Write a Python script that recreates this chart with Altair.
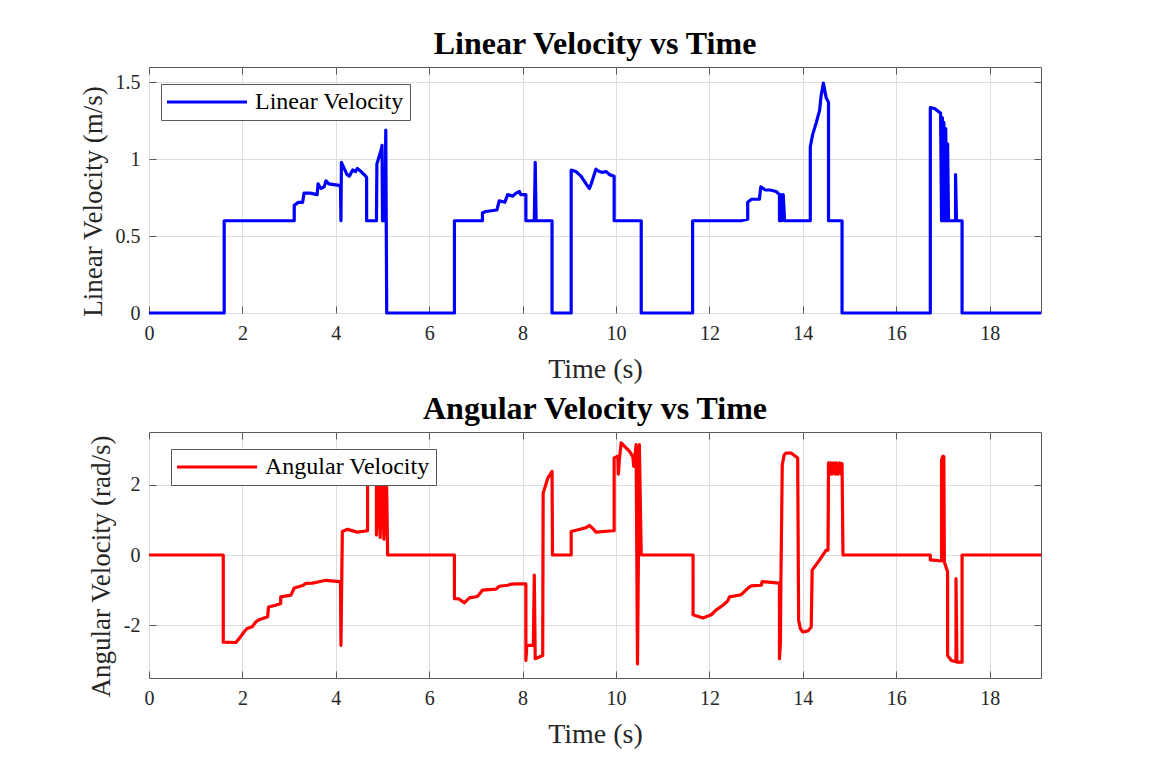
import pandas as pd
import altair as alt

# linear velocity trace (time in s, velocity in m/s)
lin_pts = [
    (0, 0), (1.61, 0), (1.61, 0.6), (3.11, 0.6), (3.11, 0.70), (3.2, 0.72), (3.29, 0.72),
    (3.32, 0.78), (3.45, 0.78), (3.6, 0.77), (3.62, 0.84), (3.68, 0.81), (3.75, 0.82),
    (3.79, 0.86), (3.85, 0.84), (4.07, 0.83), (4.1, 0.82), (4.11, 0.6), (4.12, 0.98),
    (4.24, 0.9), (4.29, 0.89), (4.36, 0.93), (4.42, 0.92), (4.46, 0.94), (4.54, 0.92),
    (4.64, 0.89), (4.66, 0.88), (4.66, 0.6), (4.87, 0.6), (4.88, 0.97), (4.93, 1.02),
    (4.97, 1.06), (4.99, 1.09), (5.0, 0.6), (5.05, 0.6), (5.07, 1.19), (5.09, 0),
    (6.54, 0), (6.54, 0.6), (7.14, 0.6), (7.14, 0.65), (7.21, 0.66), (7.45, 0.67),
    (7.5, 0.73), (7.62, 0.72), (7.68, 0.77), (7.79, 0.76), (7.86, 0.78), (7.93, 0.79),
    (7.96, 0.77), (8.07, 0.77), (8.07, 0.6), (8.25, 0.6), (8.27, 0.98), (8.29, 0.6),
    (8.63, 0.6), (8.63, 0), (9.04, 0), (9.04, 0.93), (9.14, 0.92), (9.25, 0.89),
    (9.36, 0.84), (9.43, 0.81), (9.47, 0.84), (9.57, 0.935), (9.64, 0.92), (9.71, 0.915),
    (9.79, 0.92), (9.86, 0.9), (9.96, 0.89), (9.96, 0.6), (10.54, 0.6), (10.54, 0),
    (11.64, 0), (11.64, 0.6), (12.68, 0.6), (12.82, 0.61), (12.82, 0.72), (12.9, 0.74),
    (13.07, 0.74), (13.1, 0.82), (13.2, 0.80), (13.3, 0.80), (13.43, 0.79), (13.5, 0.77),
    (13.5, 0.6), (13.53, 0.77), (13.55, 0.6), (13.58, 0.77), (13.61, 0.6), (14.16, 0.6),
    (14.16, 1.08), (14.21, 1.16), (14.29, 1.24), (14.36, 1.32), (14.39, 1.41),
    (14.44, 1.495), (14.5, 1.40), (14.55, 1.37), (14.55, 0.6), (14.84, 0.6), (14.84, 0),
    (16.73, 0), (16.73, 1.336), (16.82, 1.33), (16.95, 1.30), (16.97, 0.6), (16.99, 1.27),
    (17.0, 0.6), (17.02, 1.24), (17.04, 0.6), (17.06, 1.2), (17.08, 0.6), (17.1, 1.1),
    (17.12, 0.6), (17.27, 0.6), (17.27, 0.9), (17.29, 0.6), (17.41, 0.6), (17.41, 0),
    (19.1, 0),
]

# angular velocity trace (time in s, velocity in rad/s)
ang_pts = [
    (0, 0), (1.59, 0), (1.59, -2.48), (1.86, -2.49), (1.93, -2.38), (2.03, -2.2),
    (2.1, -2.09), (2.21, -2.04), (2.29, -1.9), (2.36, -1.84), (2.54, -1.76), (2.56, -1.48),
    (2.71, -1.43), (2.82, -1.38), (2.82, -1.19), (3.04, -1.14), (3.11, -0.94),
    (3.29, -0.87), (3.36, -0.81), (3.5, -0.80), (3.64, -0.76), (3.79, -0.72),
    (4.07, -0.76), (4.1, -0.76), (4.11, -2.57), (4.14, 0.67), (4.25, 0.73), (4.46, 0.65),
    (4.68, 0.69), (4.68, 2.7), (4.87, 2.7), (4.87, 0.57), (4.91, 2.7), (4.95, 0.5),
    (4.99, 2.7), (5.03, 0.45), (5.08, 2.7), (5.11, 0),
    (6.54, 0), (6.54, -1.24), (6.64, -1.25), (6.75, -1.36), (6.86, -1.22), (7.03, -1.18),
    (7.08, -1.1), (7.14, -1.0), (7.43, -0.97), (7.5, -0.89), (7.68, -0.86), (7.75, -0.83),
    (7.93, -0.82), (8.07, -0.82), (8.07, -3.0), (8.09, -2.57), (8.23, -2.57),
    (8.25, -0.57), (8.27, -2.95), (8.43, -2.86), (8.44, 1.76), (8.54, 2.19), (8.63, 2.38),
    (8.64, 0), (9.04, 0), (9.04, 0.67), (9.25, 0.74), (9.36, 0.78), (9.43, 0.84),
    (9.5, 0.76), (9.57, 0.65), (9.93, 0.69), (9.96, 0.69), (9.96, 2.76), (10.04, 2.81),
    (10.05, 2.3), (10.07, 2.7), (10.11, 3.19), (10.29, 2.95), (10.36, 2.8), (10.38, 2.52),
    (10.43, 3.14), (10.46, -3.1), (10.5, 3.14), (10.54, 0),
    (11.65, 0), (11.65, -1.70), (11.86, -1.79), (12.04, -1.70), (12.14, -1.57),
    (12.29, -1.43), (12.39, -1.31), (12.43, -1.19), (12.68, -1.13), (12.82, -0.95),
    (12.89, -0.88), (13.11, -0.86), (13.13, -0.76), (13.32, -0.78), (13.5, -0.8),
    (13.5, -2.95), (13.52, -2.5), (13.53, -0.8), (13.56, 2.57), (13.6, 2.85), (13.64, 2.9),
    (13.75, 2.9), (13.89, 2.76), (13.91, -1.86), (13.95, -2.1), (14.0, -2.19),
    (14.11, -2.16), (14.18, -2.05), (14.2, -0.43), (14.36, -0.14), (14.5, 0.14),
    (14.54, 0.14), (14.55, 2.62), (14.58, 2.3), (14.6, 2.62), (14.63, 2.3), (14.66, 2.62),
    (14.7, 2.3), (14.72, 2.62), (14.75, 2.3), (14.79, 2.62), (14.82, 2.3), (14.84, 2.6),
    (14.86, 0), (16.73, 0), (16.73, -0.14), (16.97, -0.17), (16.97, 2.7), (17.0, 2.81),
    (17.01, -0.1), (17.02, 2.8), (17.03, -0.2), (17.1, -0.48), (17.1, -2.86),
    (17.18, -3.0), (17.28, -3.04), (17.28, -0.67), (17.3, -3.05), (17.41, -3.05),
    (17.41, 0), (19.1, 0),
]

time_ticks = [0, 2, 4, 6, 8, 10, 12, 14, 16, 18]
lin_ticks = [0, 0.5, 1, 1.5]
ang_ticks = [-2, 0, 2]
T_END = 19.1

FONT = "Liberation Serif"
EDGE = "#595959"
INK = "#262626"
PLOT_W, PLOT_H = 892, 246


def velocity_panel(points, name, color, title, y_title, y_domain, y_ticks, legend_x):
    df = pd.DataFrame(points, columns=["t", "v"])
    df["idx"] = range(len(df))
    df["series"] = name

    x_scale = alt.Scale(domain=[0, T_END], nice=False, zero=False)
    y_scale = alt.Scale(domain=y_domain, nice=False, zero=False)
    as_text = "'' + datum.value"
    text_style = dict(labelFont=FONT, labelFontSize=20, labelColor=INK,
                      titleFont=FONT, titleFontWeight="normal", titleColor=INK)

    trace = alt.Chart(df).mark_line(strokeWidth=3.2, strokeJoin="round").encode(
        x=alt.X("t:Q", scale=x_scale, axis=alt.Axis(
            orient="bottom", values=time_ticks, labelExpr=as_text, title="Time (s)",
            offset=-7, tickSize=7, labelPadding=10, titlePadding=12, labelFlush=False,
            titleFontSize=28, grid=True, **text_style)),
        y=alt.Y("v:Q", scale=y_scale, axis=alt.Axis(
            orient="left", values=y_ticks, labelExpr=as_text, title=y_title,
            offset=-7, tickSize=7, labelPadding=9, titlePadding=8, titleFontSize=27,
            titleY=PLOT_H / 2 + 11, grid=True, **text_style)),
        color=alt.Color("series:N", scale=alt.Scale(domain=[name], range=[color]),
                        legend=alt.Legend(
                            title=None, orient="none", legendX=legend_x, legendY=17,
                            # flat custom path: 80px long line sample, one text row tall
                            symbolType="M-4,0L4,0", symbolSize=400, symbolStrokeWidth=3.2,
                            symbolOffset=28, labelOffset=36, labelLimit=400,
                            labelFont=FONT, labelFontSize=24, labelColor="black",
                            padding=6, strokeColor=EDGE, fillColor="white",
                            cornerRadius=0)),
        order=alt.Order("idx:Q"),
    )

    # invisible copy carrying the inward ticks on the top and right edges
    edge_ticks = alt.Chart(df).mark_line(opacity=0).encode(
        x=alt.X("t:Q", scale=x_scale, axis=alt.Axis(
            orient="top", values=time_ticks, labels=False, title=None,
            offset=-7, tickSize=7, grid=False)),
        y=alt.Y("v:Q", scale=y_scale, axis=alt.Axis(
            orient="right", values=y_ticks, labels=False, title=None,
            offset=-7, tickSize=7, grid=False)),
        order=alt.Order("idx:Q"),
    )

    return alt.layer(trace, edge_ticks).resolve_axis(
        x="independent", y="independent"
    ).properties(
        width=PLOT_W, height=PLOT_H,
        title=alt.Title(title, font=FONT, fontSize=32, fontWeight="bold",
                        color="black", offset=6, anchor="middle"),
    )


top = velocity_panel(lin_pts, "Linear Velocity", "#0000ff", "Linear Velocity vs Time",
                     "Linear Velocity (m/s)", [0, 1.6], lin_ticks, 12)
bottom = velocity_panel(ang_pts, "Angular Velocity", "#ff0000", "Angular Velocity vs Time",
                        "Angular Velocity (rad/s)", [-3.5, 3.5], ang_ticks, 22)

chart = alt.vconcat(top, bottom, spacing=8).resolve_scale(
    x="independent", y="independent", color="independent"
).resolve_legend(color="independent").properties(
    padding={"left": 70, "top": 19, "right": 10, "bottom": 10}
).configure_view(
    stroke=EDGE, strokeWidth=1
).configure_axis(
    labelFont=FONT, titleFont=FONT,
    tickColor=EDGE, tickWidth=1, domain=False,
    gridColor="#dedede", gridWidth=1,
)

chart.save("out.html", embed_options={"renderer": "svg", "actions": False})
